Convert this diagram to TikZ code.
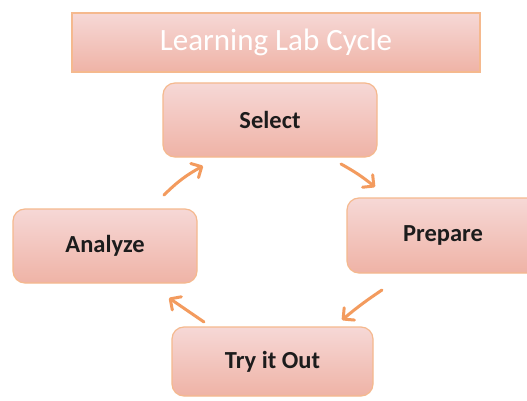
\documentclass[tikz,border=0pt]{standalone}
\usepackage{fontspec}
\setmainfont{Carlito}
\usetikzlibrary{arrows.meta}
\definecolor{boxtop}{HTML}{F6D8D6}
\definecolor{boxbottom}{HTML}{EFB3A6}
\definecolor{boxedge}{HTML}{F5B98E}
\definecolor{arrowc}{HTML}{F39B5E}
\definecolor{labelc}{HTML}{1C1C1C}
\tikzset{
  stagebox/.style={rectangle, rounded corners=12pt, draw=boxedge, line width=1.2pt,
    top color=boxtop, bottom color=boxbottom, text=labelc,
    font=\fontsize{24.5}{28}\selectfont\bfseries, inner sep=0pt},
  titlebox/.style={rectangle, draw=boxedge, line width=1.2pt,
    top color=boxtop, bottom color=boxbottom, text=white,
    font=\fontsize{31}{34}\selectfont, inner sep=0pt},
  cyclearrow/.style={draw=arrowc, line width=3pt, line cap=round,
    -{Straight Barb[length=8pt, width=16pt, line width=3pt, round]}}
}
\begin{document}
\begin{tikzpicture}[x=1pt, y=-1pt]
  \useasboundingbox (0,0) rectangle (527,401);
  \fill[white] (0,0) rectangle (527,401);

  % title banner
  \node[titlebox, minimum width=408pt, minimum height=59pt] (title) at (276,42.5) {Learning Lab Cycle};

  % stages of the cycle
  \node[stagebox, minimum width=214pt, minimum height=74pt] (select)  at (270,120) {Select};
  \node[stagebox, minimum width=192pt, minimum height=75pt] (prepare) at (443,235.5) {Prepare};
  \node[stagebox, minimum width=201pt, minimum height=69pt] (tryout)  at (272.5,361.5) {Try it Out};
  \node[stagebox, minimum width=184pt, minimum height=74pt] (analyze) at (105,246) {Analyze};

  % arrow end points
  \coordinate (a1) at (164,195);  \coordinate (b1) at (203,166);
  \coordinate (a2) at (341,164);  \coordinate (b2) at (375,187);
  \coordinate (a3) at (382,290);  \coordinate (b3) at (342,320);
  \coordinate (a4) at (204,322);  \coordinate (b4) at (169,298);

  \draw[cyclearrow] (a1) to[bend left=8] (b1);
  \draw[cyclearrow] (a2) to[bend left=5] (b2);
  \draw[cyclearrow] (a3) to[bend right=3] (b3);
  \draw[cyclearrow] (a4) to (b4);
\end{tikzpicture}
\end{document}
